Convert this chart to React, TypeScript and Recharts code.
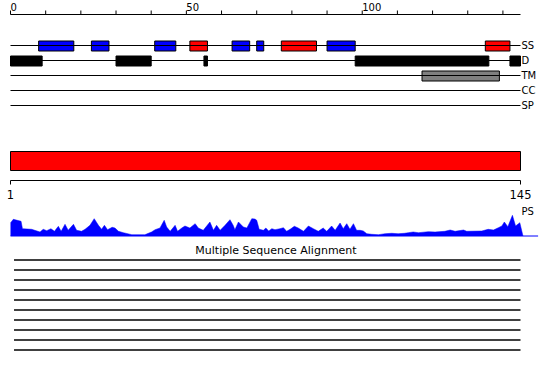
import React from 'react';
import { ComposedChart, AreaChart, Area, Bar, Cell, XAxis, YAxis, ReferenceLine } from 'recharts';

const SEQ_LENGTH = 145;
const TRACKS = ['SS', 'D', 'TM', 'CC', 'SP'];
const RULER_TICKS = [0, 10, 20, 30, 40, 50, 60, 70, 80, 90, 100, 110, 120, 130, 140];
const RULER_LABELS = [0, 50, 100];
const SEQ_TICKS = [1, 145];

// secondary structure: H = helix (red), E = strand (blue)
const SS_START = [8, 23, 41, 51, 63, 70, 77, 90, 135];
const SS_END = [18, 28, 47, 56, 68, 72, 87, 98, 142];
const SS_KIND = ['E', 'E', 'E', 'H', 'E', 'E', 'H', 'E', 'H'];

// disordered regions
const DIS_START = [0, 30, 55, 98, 142];
const DIS_END = [9, 40, 56, 136, 145];

// transmembrane
const TM_START = [117];
const TM_END = [139];

// domain assignment
const DOMAIN = [1, 145];

// PS profile, [residue, height]
const PS_POINTS: [number, number][] = [
  [0, 13], [0.8, 16.7], [3, 14.7], [3.4, 7.3], [6, 6.7], [8.4, 4], [9.3, 6.7], [10.3, 5.3],
  [11.5, 7.3], [12.5, 4.7], [13.6, 9.7], [14.4, 4.7], [15.5, 11.7], [16.4, 5.7], [17.9, 11.7],
  [18.8, 5.7], [20.2, 4.7], [21.2, 6.7], [22.6, 10.7], [23.8, 17.3], [25, 10.7], [25.9, 6.7],
  [26.7, 10.7], [27.6, 6.3], [28.9, 8.7], [29.7, 8], [30.7, 4.7], [32.1, 3.3], [34.5, 1.3],
  [36.8, 1.3], [38.2, 1.3], [39.2, 2.7], [40.1, 4], [41.1, 6.3], [42.5, 8], [43.7, 15.7],
  [44.4, 9], [45.4, 4.7], [46.8, 10.7], [47.5, 4.7], [48.7, 8], [49.6, 10], [51, 8],
  [52.5, 12.3], [53.4, 8], [54.8, 5.7], [56.7, 14], [57.7, 5.7], [58.6, 10.7], [59.6, 5.7],
  [61, 10.7], [62.4, 16.3], [63.3, 10.7], [63.8, 6.3], [64.8, 14], [66.2, 9], [67.2, 8],
  [68.6, 17.3], [69.5, 17], [70, 15.7], [70.7, 6.7], [71.9, 5.7], [72.6, 8], [73.4, 5],
  [74.3, 7.3], [75.2, 6.3], [76.6, 7.3], [77.6, 8.3], [78.5, 4.7], [79.5, 6.7], [80.7, 9.7],
  [81.8, 8], [83.3, 4.7], [84.7, 10], [86.1, 7.3], [87.5, 4.7], [88.9, 8], [89.9, 4.7],
  [91.3, 10], [92.3, 5.7], [93.7, 13], [94.6, 7.3], [95.6, 12.3], [96.5, 6.7], [97.5, 12.3],
  [98.4, 5.7], [99.4, 5.7], [100.3, 5], [101.3, 2.3], [102.7, 1.7], [104.6, 1.3], [106.5, 2.3],
  [108.4, 2.7], [110.2, 2.3], [112, 2.7], [113.1, 3.3], [114.5, 4], [116, 3.3], [118.8, 4.3],
  [120.7, 4], [123.5, 4.7], [125, 6], [126.4, 4.7], [128.8, 6], [129.7, 4.7], [134, 5],
  [135.8, 6.7], [137.3, 6], [138.7, 8.3], [139.7, 10], [140.4, 14], [141.4, 9.3],
  [142.7, 20.7], [143.6, 10], [144.8, 13.3], [145.7, 0],
];

// alignment hits
const MSA_START = [1, 1, 1, 1, 1, 1, 1, 1, 1, 1];
const MSA_END = [145, 145, 145, 145, 145, 145, 145, 145, 145, 145];

const BLUE = '#0000ff';
const RED = '#ff0000';
const GREY = '#808080';
const FONT = '"DejaVu Sans", sans-serif';

type Seg = { start: number; end: number; color: string };

const trackRows = TRACKS.map(t => ({ track: t, segs: [] as Seg[] }));
SS_START.forEach((s, i) => trackRows[0].segs.push({ start: s, end: SS_END[i], color: SS_KIND[i] === 'H' ? RED : BLUE }));
DIS_START.forEach((s, i) => trackRows[1].segs.push({ start: s, end: DIS_END[i], color: '#000' }));
TM_START.forEach((s, i) => trackRows[2].segs.push({ start: s, end: TM_END[i], color: GREY }));
const maxSegs = Math.max(...trackRows.map(r => r.segs.length));

const domainRows = [{ name: 'domain', range: DOMAIN }];
const psData = PS_POINTS.map(([pos, val]) => ({ pos, val }));
const msaRows = MSA_START.map((s, i) => ({ id: `seq${i + 1}`, range: [s, MSA_END[i]] }));

const RulerTick = (props: any) => {
  const { x, y, payload } = props;
  if (!RULER_LABELS.includes(payload.value)) return null;
  return (
    <text x={x} y={y} textAnchor="start" fontSize={10} fill="#000">
      {payload.value}
    </text>
  );
};

const App = () => {
  return (
    <div style={{ position: 'absolute', left: 0, top: 0, width: 550, height: 380, background: '#fff', fontFamily: FONT }}>
      {/* feature tracks */}
      <div style={{ position: 'absolute', left: 0, top: 0 }}>
        <ComposedChart
          layout="vertical"
          width={550}
          height={113}
          data={trackRows}
          barGap={-10}
          margin={{ top: 0, right: 0, bottom: 0, left: 10.5 }}
        >
          <XAxis
            type="number"
            orientation="top"
            domain={[0, SEQ_LENGTH]}
            ticks={RULER_TICKS}
            interval={0}
            height={14.5}
            tickSize={4}
            tickMargin={0}
            stroke="#000"
            tick={RulerTick}
          />
          <YAxis
            type="category"
            dataKey="track"
            orientation="right"
            width={29.5}
            padding={{ top: 23.5, bottom: 0 }}
            interval={0}
            axisLine={false}
            tickLine={false}
            tickSize={0}
            tickMargin={1}
            tick={{ fill: '#000', fontSize: 10 }}
          />
          {TRACKS.map(t => (
            <ReferenceLine key={t} y={t} stroke="#000" />
          ))}
          {Array.from({ length: maxSegs }, (_, k) => (
            <Bar
              key={k}
              dataKey={(r: any) => (r.segs[k] ? [r.segs[k].start, r.segs[k].end] : undefined)}
              barSize={10}
              stroke="#000"
              isAnimationActive={false}
            >
              {trackRows.map((r, i) => (
                <Cell key={i} fill={r.segs[k] ? r.segs[k].color : 'none'} stroke={r.segs[k] ? '#000' : 'none'} />
              ))}
            </Bar>
          ))}
        </ComposedChart>
      </div>

      {/* domain bar with sequence axis */}
      <div style={{ position: 'absolute', left: 0, top: 140 }}>
        <ComposedChart
          layout="vertical"
          width={550}
          height={66}
          data={domainRows}
          margin={{ top: 0.5, right: 29.5, bottom: 0, left: 10.5 }}
        >
          <XAxis
            type="number"
            domain={[1, SEQ_LENGTH]}
            ticks={SEQ_TICKS}
            interval={0}
            height={25.5}
            tickSize={4}
            tickMargin={6}
            stroke="#000"
            tick={{ fill: '#000', fontSize: 11.5 }}
          />
          <YAxis type="category" dataKey="name" hide width={0} />
          <Bar dataKey="range" barSize={19} fill={RED} stroke="#000" isAnimationActive={false} />
        </ComposedChart>
      </div>

      {/* PS profile */}
      <div style={{ position: 'absolute', left: 0, top: 200 }}>
        <AreaChart width={550} height={40} data={psData} margin={{ top: 14, right: 11.9, bottom: 4, left: 10.5 }}>
          <XAxis type="number" dataKey="pos" domain={[0, 150]} hide />
          <YAxis domain={[0, 22]} hide />
          <ReferenceLine y={0} stroke={BLUE} />
          <Area
            type="linear"
            dataKey="val"
            stroke={BLUE}
            strokeWidth={0.5}
            fill={BLUE}
            fillOpacity={1}
            isAnimationActive={false}
          />
        </AreaChart>
      </div>
      <div style={{ position: 'absolute', left: 521.5, top: 206.5, fontSize: 10, lineHeight: '10px', color: '#000' }}>PS</div>

      {/* alignment */}
      <div
        style={{
          position: 'absolute',
          left: 0,
          top: 245.3,
          width: 552,
          textAlign: 'center',
          fontSize: 11,
          lineHeight: '11.5px',
          color: '#000',
        }}
      >
        Multiple Sequence Alignment
      </div>
      <div style={{ position: 'absolute', left: 0, top: 250 }}>
        <ComposedChart
          layout="vertical"
          width={550}
          height={110}
          data={msaRows}
          margin={{ top: 5.3, right: 29.5, bottom: 4.7, left: 10.5 }}
        >
          <XAxis type="number" domain={[0, SEQ_LENGTH]} hide />
          <YAxis type="category" dataKey="id" hide width={0} />
          <Bar dataKey="range" barSize={1.5} fill="#000" isAnimationActive={false} />
        </ComposedChart>
      </div>
    </div>
  );
};

export default App;
